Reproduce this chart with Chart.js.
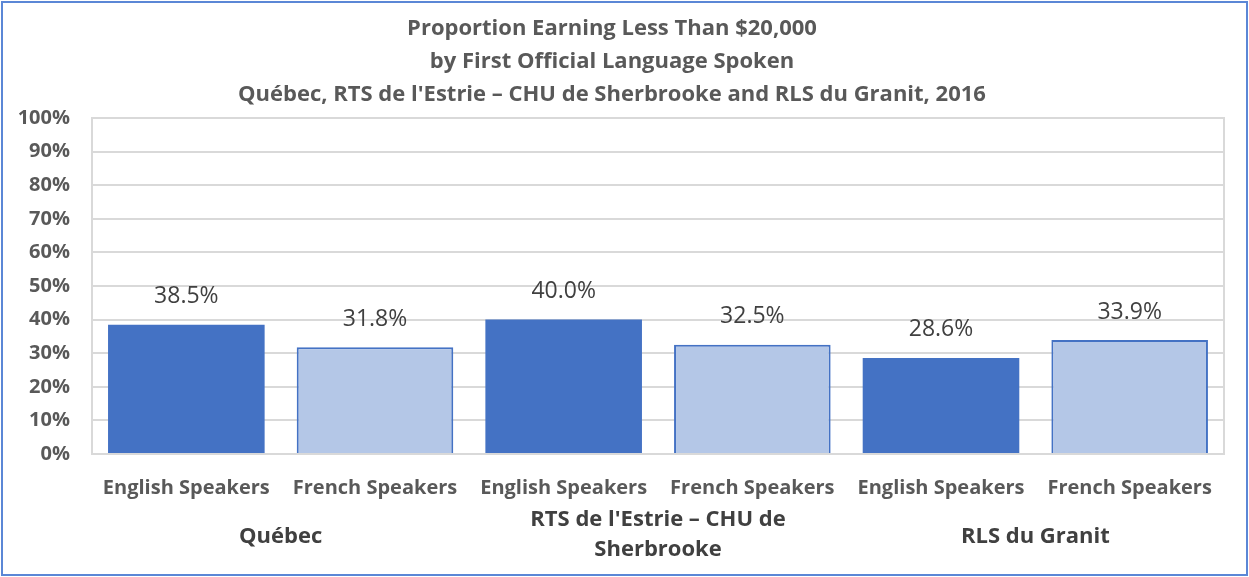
<!DOCTYPE html>
<html>
<head>
<meta charset="utf-8">
<script src="https://cdn.jsdelivr.net/npm/chart.js@4.4.1/dist/chart.umd.min.js"></script>
<style>
  html, body { margin: 0; padding: 0; background: #fff; }
  #wrap { width: 1249px; height: 577px; position: relative; }
</style>
</head>
<body>
<div id="wrap"><canvas id="chart" width="1249" height="577"></canvas></div>
<script>
const titleLines = [
    'Proportion Earning Less Than $20,000',
    'by First Official Language Spoken',
    "Québec, RTS de l'Estrie – CHU de Sherbrooke and RLS du Granit, 2016"
];
const categories = ['English Speakers', 'French Speakers', 'English Speakers', 'French Speakers', 'English Speakers', 'French Speakers'];
const groups = [['Québec'], ["RTS de l'Estrie – CHU de", 'Sherbrooke'], ['RLS du Granit']];
const values = [38.5, 31.8, 40.0, 32.5, 28.6, 33.9];
const yMin = 0;
const yMax = 100;
const yStep = 10;

const FONT = '"Open Sans", sans-serif';
const GRAY = '#595959';
const DARK = '#4472C4';
const LIGHT = '#B4C7E7';

const extras = {
    id: 'extras',
    beforeDatasetsDraw(chart) {
        const { ctx, chartArea: a } = chart;
        ctx.save();
        ctx.strokeStyle = '#D9D9D9';
        ctx.lineWidth = 2;
        ctx.strokeRect(a.left, a.top, a.right - a.left, a.bottom - a.top);
        ctx.restore();
    },
    afterDraw(chart) {
        const { ctx } = chart;
        const meta = chart.getDatasetMeta(0);
        const x = chart.scales.x;
        ctx.save();
        // value labels
        ctx.fillStyle = '#404040';
        ctx.font = '23px ' + FONT;
        ctx.textAlign = 'center';
        ctx.textBaseline = 'middle';
        meta.data.forEach((bar, i) => {
            ctx.fillText(values[i].toFixed(1) + '%', bar.x, bar.y - 28);
        });
        // group labels
        ctx.fillStyle = '#404040';
        ctx.font = 'bold 22px ' + FONT;
        groups.forEach((lines, g) => {
            const cx = (x.getPixelForValue(g * 2) + x.getPixelForValue(g * 2 + 1)) / 2;
            const y0 = lines.length > 1 ? 520 : 537;
            lines.forEach((t, j) => ctx.fillText(t, cx, y0 + j * 30));
        });
        // outer border
        ctx.strokeStyle = '#5B87D6';
        ctx.lineWidth = 2;
        ctx.strokeRect(2, 2, chart.width - 4, chart.height - 4);
        ctx.restore();
    }
};

new Chart(document.getElementById('chart'), {
    type: 'bar',
    data: {
        labels: categories,
        datasets: [{
            data: values,
            backgroundColor: values.map((v, i) => i % 2 === 0 ? DARK : LIGHT),
            borderColor: DARK,
            borderWidth: values.map((v, i) => i % 2 === 0 ? 0 : 2),
            categoryPercentage: 1,
            barPercentage: 0.83
        }]
    },
    options: {
        responsive: false,
        animation: false,
        layout: { padding: { left: 0, right: 25, top: 0, bottom: 0 } },
        plugins: {
            legend: { display: false },
            tooltip: { enabled: false },
            title: {
                display: true,
                text: titleLines,
                color: GRAY,
                font: { family: FONT, size: 22, weight: 'bold', lineHeight: 1.5 },
                padding: { top: 12, bottom: 7 }
            }
        },
        scales: {
            x: {
                grid: { display: false },
                border: { display: false },
                ticks: { color: GRAY, font: { family: FONT, size: 20, weight: 'bold' }, padding: 14, maxRotation: 0 },
                afterFit(s) { s.height = 123; }
            },
            y: {
                min: yMin,
                max: yMax,
                grid: { color: '#D9D9D9', lineWidth: 2, drawTicks: false },
                border: { display: false },
                ticks: {
                    stepSize: yStep,
                    color: GRAY,
                    padding: 22,
                    font: { family: FONT, size: 20, weight: 'bold' },
                    callback: v => v + '%'
                },
                afterFit(s) { s.width = 92; }
            }
        }
    },
    plugins: [extras]
});
</script>
</body>
</html>
